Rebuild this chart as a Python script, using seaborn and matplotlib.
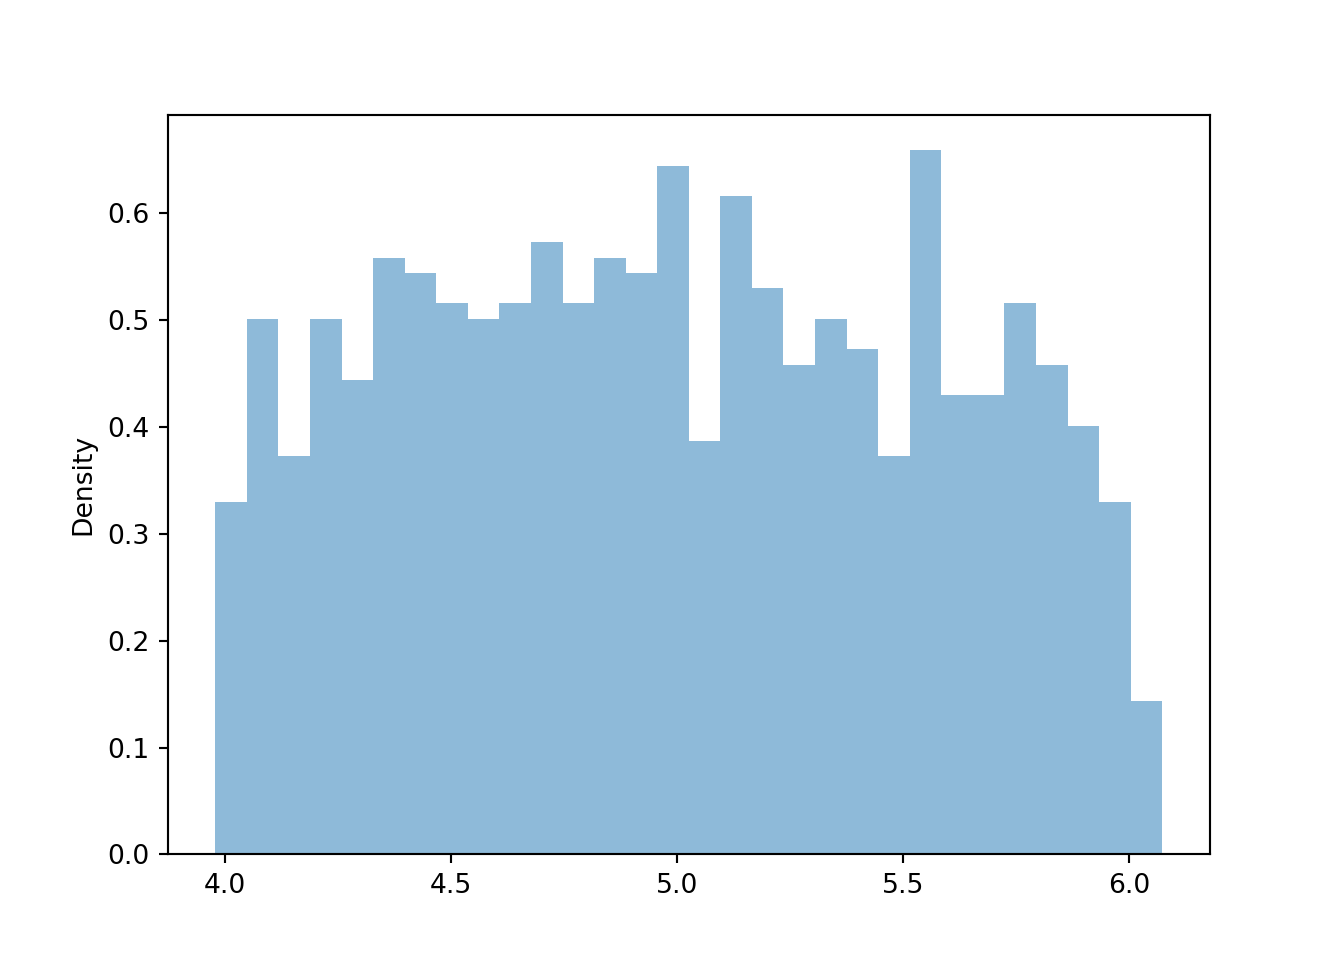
import numpy as np
import pandas as pd
import matplotlib
matplotlib.use("Agg")
import matplotlib.pyplot as plt
import seaborn as sns

# Histogram data (counts per bin, N = 1000)
bin_lo = 3.978
bin_hi = 6.073
n_bins = 30
counts = [23, 35, 26, 35, 31, 39, 38, 36, 35, 36,
          40, 36, 39, 38, 45, 27, 43, 37, 32, 35,
          33, 26, 46, 30, 30, 36, 32, 28, 23, 10]

edges = np.linspace(bin_lo, bin_hi, n_bins + 1)
centers = (edges[:-1] + edges[1:]) / 2
df = pd.DataFrame({"value": centers, "count": counts})

fig, ax = plt.subplots(figsize=(7, 5), dpi=192)
sns.histplot(data=df, x="value", weights="count", bins=list(edges),
             stat="density", color="#1f77b4", alpha=0.5, linewidth=0, ax=ax)
ax.set_xlabel("")
ax.set_ylabel("Density")
fig.savefig("out.png", dpi=192)
